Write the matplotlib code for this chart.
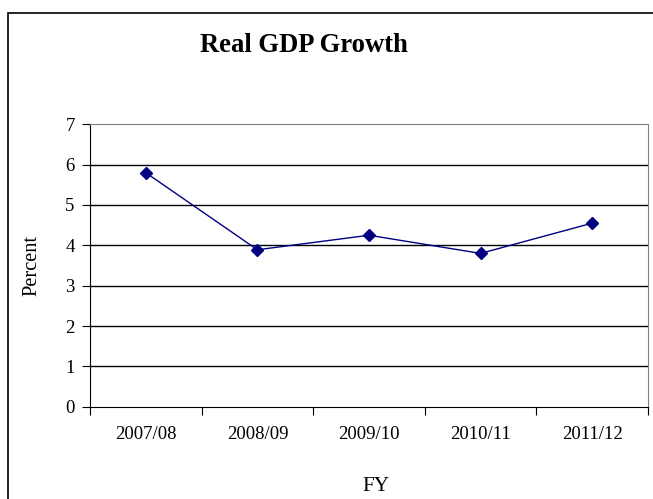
import numpy as np
import matplotlib.pyplot as plt
from matplotlib.patches import Rectangle

# data
years = ['2007/08', '2008/09', '2009/10', '2010/11', '2011/12']
growth = [5.8, 3.89, 4.25, 3.8, 4.55]
yticks = [0, 1, 2, 3, 4, 5, 6, 7]

plt.rcParams['font.family'] = 'Liberation Serif'

fig = plt.figure(figsize=(6.53, 4.99), dpi=100)
ax = fig.add_axes([90 / 653, 1 - 406.7 / 499, 558 / 653, 282.4 / 499])

# outer chart border
fig.patches.append(Rectangle((7.5 / 653, -0.1), 1.2, 1 - 13 / 499 + 0.1,
                             transform=fig.transFigure, fill=False,
                             edgecolor='black', linewidth=1.2))

x = np.arange(len(years))
ax.plot(x, growth, color='#000080', linewidth=1, marker='D',
        markersize=6, markerfacecolor='#000080', markeredgecolor='#000080')

ax.set_xlim(-0.5, len(years) - 0.5)
ax.set_ylim(0, 7)
ax.set_yticks(yticks)
for v in yticks[1:-1]:
    ax.axhline(v, color='black', linewidth=1, zorder=0)

# category ticks at boundaries, labels at centres
ax.set_xticks(np.arange(-0.5, len(years)), labels=[''] * (len(years) + 1))
ax.set_xticks(x, labels=years, minor=True)
ax.tick_params(axis='x', which='major', direction='out', length=6, width=0.8)
ax.tick_params(axis='x', which='minor', length=0, pad=14, labelsize=13.5)
ax.tick_params(axis='y', direction='out', length=6, width=0.8, pad=5,
               labelsize=13.5)

for s in ['top', 'right']:
    ax.spines[s].set_color('#808080')
for s in ['left', 'bottom']:
    ax.spines[s].set_color('black')

ax.set_ylabel('Percent', fontsize=14.7)
ax.yaxis.set_label_coords(-0.104, 0.5)
ax.set_xlabel('FY', fontsize=15.3)
ax.xaxis.set_label_coords(0.5125, -0.283)
ax.xaxis.label.set_verticalalignment('center')
ax.yaxis.label.set_verticalalignment('center')

ax.text(0.3835, 1.278, 'Real GDP Growth', transform=ax.transAxes,
        ha='center', va='center', fontsize=19.2, fontweight='bold')

fig.savefig('out.png', dpi=100)
